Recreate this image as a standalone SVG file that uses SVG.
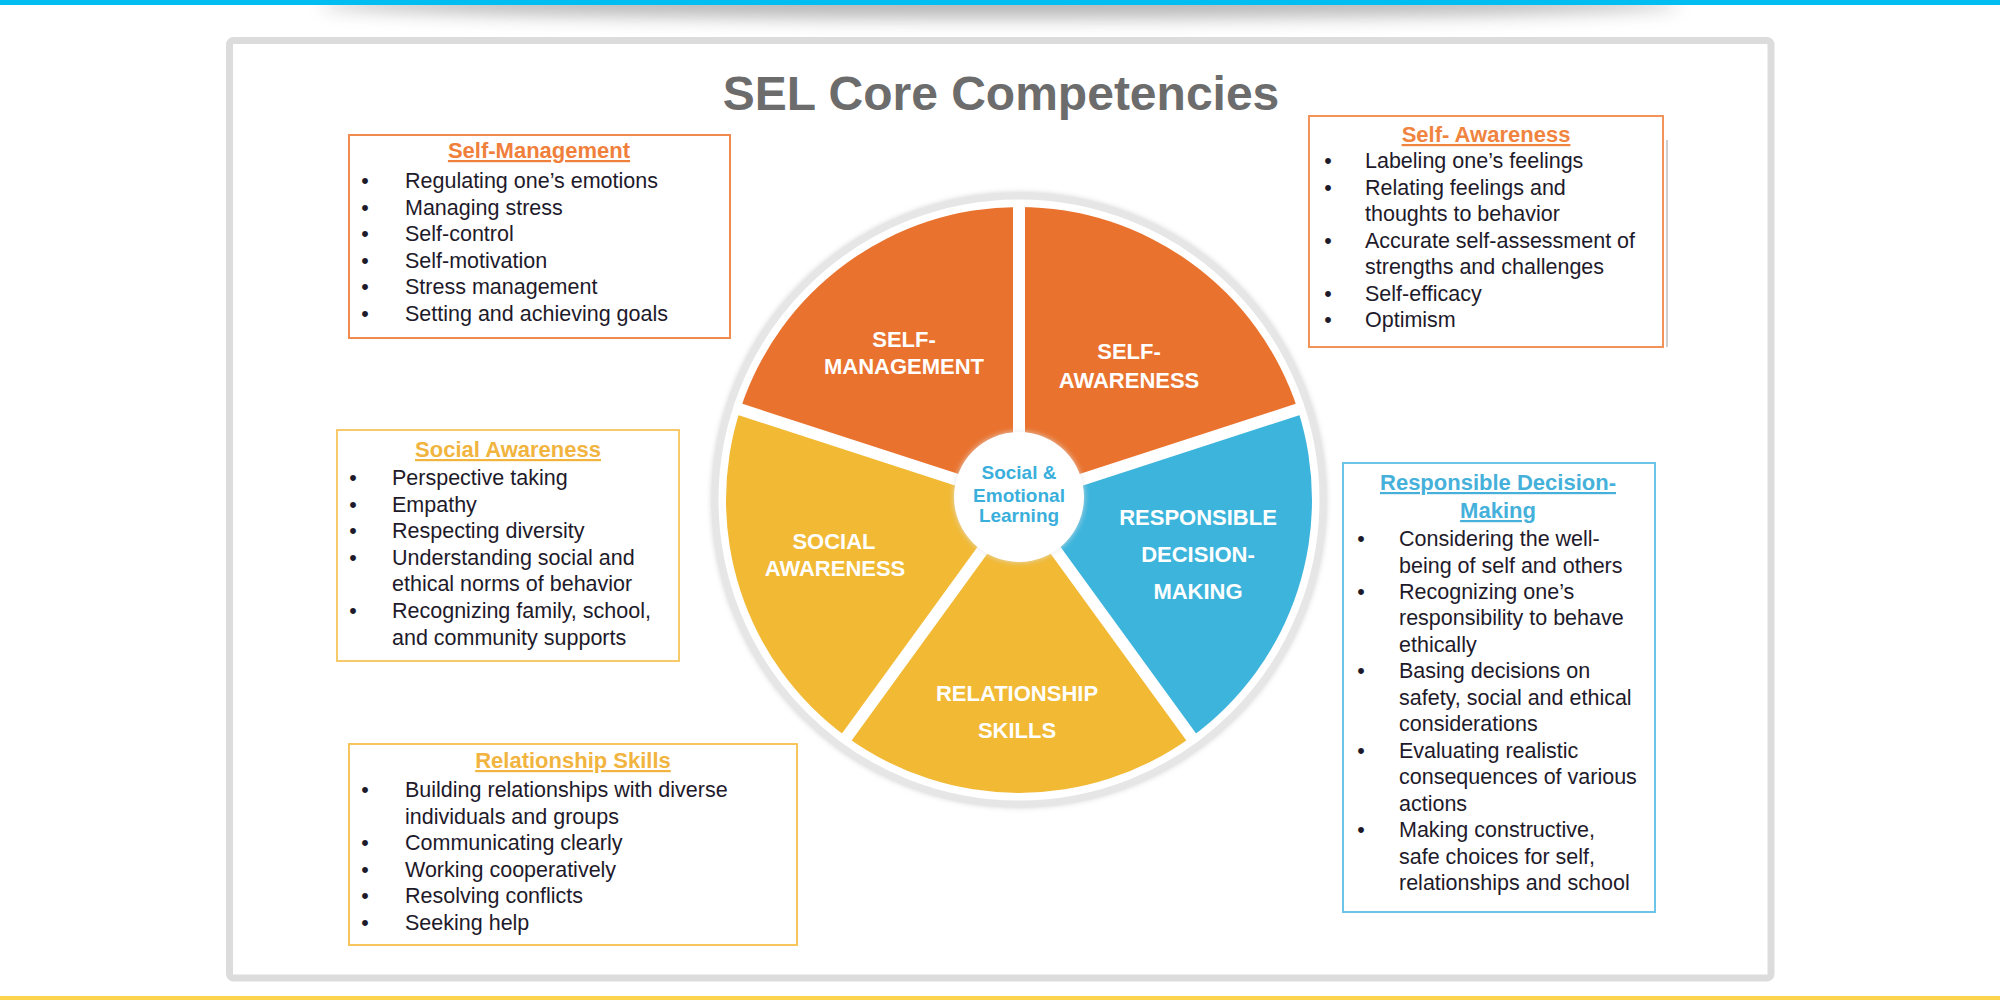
<svg xmlns="http://www.w3.org/2000/svg" width="2000" height="1000" viewBox="0 0 2000 1000">
<style>
  .body { font-family: "Liberation Sans", Arial, sans-serif; font-size: 21.5px; fill: #1e1a2a; }
  .bul { font-family: "Liberation Sans", Arial, sans-serif; font-size: 21.5px; fill: #1e1a2a; text-anchor: middle; }
  .hd { font-family: "Liberation Sans", Arial, sans-serif; font-size: 22px; font-weight: bold; text-anchor: middle; text-decoration: underline; }
  .seg { font-family: "Liberation Sans", Arial, sans-serif; font-size: 22px; font-weight: bold; fill: #ffffff; text-anchor: middle; }
  .ctr { font-family: "Liberation Sans", Arial, sans-serif; font-size: 19px; font-weight: bold; fill: #3aafdc; text-anchor: middle; }
  .box { fill: #ffffff; stroke-width: 2; }
  .orange { fill: #e9722e; }
  .yellow { fill: #f1b934; }
  .blue { fill: #3db4dc; }
  .gap { stroke: #ffffff; stroke-width: 12; }
</style>
<defs>
  <filter id="blur8" x="-20%" y="-200%" width="140%" height="500%">
    <feGaussianBlur stdDeviation="9"/>
  </filter>
  <filter id="ringshadow" x="-10%" y="-10%" width="120%" height="120%">
    <feGaussianBlur stdDeviation="2.5"/>
  </filter>
  <clipPath id="belowbar"><rect x="0" y="5" width="2000" height="60"/></clipPath>
</defs>

<rect x="0" y="0" width="2000" height="1000" fill="#ffffff"/>

<!-- top bar with soft shadow -->
<g id="top-bar">
  <g clip-path="url(#belowbar)">
    <ellipse cx="1000" cy="4" rx="680" ry="14" fill="#7a7a7a" opacity="0.55" filter="url(#blur8)"/>
  </g>
  <rect x="0" y="0" width="2000" height="5" fill="#00bdf2"/>
</g>
<rect id="bottom-bar" x="0" y="996" width="2000" height="4" fill="#fcd44e"/>

<!-- frame -->
<rect id="frame" x="229.5" y="40.5" width="1541.5" height="937.5" rx="4" fill="#ffffff" stroke="#dcdcdc" stroke-width="7"/>

<g id="title">
  <text x="1001" y="110" font-family="'Liberation Sans', Arial, sans-serif" font-size="48" font-weight="bold" fill="#6c6c6c" text-anchor="middle">SEL Core Competencies</text>
</g>

<!-- wheel -->
<g id="wheel">
  <circle cx="1019" cy="500" r="305" fill="none" stroke="#c8c8c8" stroke-width="6" filter="url(#ringshadow)" opacity="0.7"/>
  <circle cx="1019" cy="500" r="304" fill="#ffffff" stroke="#e6e6e6" stroke-width="7"/>
  <g id="seg-self-management">
    <path class="orange" d="M1019 500 L740.3 409.5 A293 293 0 0 1 1019 207 Z"/>
    <text class="seg" x="904" y="347">SELF-</text>
    <text class="seg" x="904" y="374">MANAGEMENT</text>
  </g>
  <g id="seg-self-awareness">
    <path class="orange" d="M1019 500 L1019 207 A293 293 0 0 1 1297.7 409.5 Z"/>
    <text class="seg" x="1129" y="359">SELF-</text>
    <text class="seg" x="1129" y="388">AWARENESS</text>
  </g>
  <g id="seg-responsible-decision-making">
    <path class="blue" d="M1019 500 L1297.7 409.5 A293 293 0 0 1 1191.2 737 Z"/>
    <text class="seg" x="1198" y="525">RESPONSIBLE</text>
    <text class="seg" x="1198" y="562">DECISION-</text>
    <text class="seg" x="1198" y="599">MAKING</text>
  </g>
  <g id="seg-relationship-skills">
    <path class="yellow" d="M1019 500 L1191.2 737 A293 293 0 0 1 846.8 737 Z"/>
    <text class="seg" x="1017" y="701">RELATIONSHIP</text>
    <text class="seg" x="1017" y="738">SKILLS</text>
  </g>
  <g id="seg-social-awareness">
    <path class="yellow" d="M1019 500 L846.8 737 A293 293 0 0 1 740.3 409.5 Z"/>
    <text class="seg" x="834" y="549">SOCIAL</text>
    <text class="seg" x="835" y="576">AWARENESS</text>
  </g>
  <g id="separators">
    <line class="gap" x1="1019" y1="500" x2="1019" y2="200"/>
    <line class="gap" x1="1019" y1="500" x2="1304.3" y2="407.3"/>
    <line class="gap" x1="1019" y1="500" x2="1195.4" y2="742.7"/>
    <line class="gap" x1="1019" y1="500" x2="842.6" y2="742.7"/>
    <line class="gap" x1="1019" y1="500" x2="733.7" y2="407.3"/>
  </g>
  <g id="center-node">
    <circle cx="1019" cy="497" r="66" fill="#e2e2e2" opacity="0.6" filter="url(#ringshadow)"/>
    <circle cx="1019" cy="497" r="65" fill="#ffffff"/>
    <text class="ctr" x="1019" y="479">Social &amp;</text>
    <text class="ctr" x="1019" y="502">Emotional</text>
    <text class="ctr" x="1019" y="522">Learning</text>
  </g>
</g>

<!-- Self-Management box -->
<g id="box-self-management">
  <rect class="box" x="349" y="135" width="381" height="203" stroke="#f08a4e"/>
  <text class="hd" x="539" y="158" fill="#f07f3c">Self-Management</text>
  <text class="bul" x="365" y="188">•</text><text class="body" x="405" y="188">Regulating one’s emotions</text>
  <text class="bul" x="365" y="214.6">•</text><text class="body" x="405" y="214.6">Managing stress</text>
  <text class="bul" x="365" y="241.2">•</text><text class="body" x="405" y="241.2">Self-control</text>
  <text class="bul" x="365" y="267.8">•</text><text class="body" x="405" y="267.8">Self-motivation</text>
  <text class="bul" x="365" y="294.4">•</text><text class="body" x="405" y="294.4">Stress management</text>
  <text class="bul" x="365" y="321">•</text><text class="body" x="405" y="321">Setting and achieving goals</text>
</g>

<!-- Self-Awareness box -->
<g id="box-self-awareness">
  <line x1="1667" y1="140" x2="1667" y2="347" stroke="#cfcfcf" stroke-width="2"/>
  <rect class="box" x="1309" y="116" width="354" height="231" stroke="#f3935a"/>
  <text class="hd" x="1486" y="142" fill="#f0843f">Self- Awareness</text>
  <text class="bul" x="1328" y="168">•</text><text class="body" x="1365" y="168">Labeling one’s feelings</text>
  <text class="bul" x="1328" y="194.5">•</text><text class="body" x="1365" y="194.5">Relating feelings and</text>
  <text class="body" x="1365" y="221">thoughts to behavior</text>
  <text class="bul" x="1328" y="247.5">•</text><text class="body" x="1365" y="247.5">Accurate self-assessment of</text>
  <text class="body" x="1365" y="274">strengths and challenges</text>
  <text class="bul" x="1328" y="300.5">•</text><text class="body" x="1365" y="300.5">Self-efficacy</text>
  <text class="bul" x="1328" y="327">•</text><text class="body" x="1365" y="327">Optimism</text>
</g>

<!-- Social Awareness box -->
<g id="box-social-awareness">
  <rect class="box" x="337" y="430" width="342" height="231" stroke="#f6c96a"/>
  <text class="hd" x="508" y="457" fill="#f1b43e">Social Awareness</text>
  <text class="bul" x="353" y="485">•</text><text class="body" x="392" y="485">Perspective taking</text>
  <text class="bul" x="353" y="511.6">•</text><text class="body" x="392" y="511.6">Empathy</text>
  <text class="bul" x="353" y="538.2">•</text><text class="body" x="392" y="538.2">Respecting diversity</text>
  <text class="bul" x="353" y="564.8">•</text><text class="body" x="392" y="564.8">Understanding social and</text>
  <text class="body" x="392" y="591.4">ethical norms of behavior</text>
  <text class="bul" x="353" y="618">•</text><text class="body" x="392" y="618">Recognizing family, school,</text>
  <text class="body" x="392" y="644.6">and community supports</text>
</g>

<!-- Relationship Skills box -->
<g id="box-relationship-skills">
  <rect class="box" x="349" y="744" width="448" height="201" stroke="#f6c55c"/>
  <text class="hd" x="573" y="768" fill="#f1b43e">Relationship Skills</text>
  <text class="bul" x="365" y="797">•</text><text class="body" x="405" y="797">Building relationships with diverse</text>
  <text class="body" x="405" y="823.5">individuals and groups</text>
  <text class="bul" x="365" y="850">•</text><text class="body" x="405" y="850">Communicating clearly</text>
  <text class="bul" x="365" y="876.5">•</text><text class="body" x="405" y="876.5">Working cooperatively</text>
  <text class="bul" x="365" y="903">•</text><text class="body" x="405" y="903">Resolving conflicts</text>
  <text class="bul" x="365" y="929.5">•</text><text class="body" x="405" y="929.5">Seeking help</text>
</g>

<!-- Responsible Decision-Making box -->
<g id="box-responsible-decision-making">
  <rect class="box" x="1343" y="463" width="312" height="449" stroke="#6cc5e6"/>
  <text class="hd" x="1498" y="490" fill="#45b1db">Responsible Decision-</text>
  <text class="hd" x="1498" y="518" fill="#45b1db">Making</text>
  <text class="bul" x="1361" y="546">•</text><text class="body" x="1399" y="546">Considering the well-</text>
  <text class="body" x="1399" y="572.5">being of self and others</text>
  <text class="bul" x="1361" y="598.9">•</text><text class="body" x="1399" y="598.9">Recognizing one’s</text>
  <text class="body" x="1399" y="625.4">responsibility to behave</text>
  <text class="body" x="1399" y="651.8">ethically</text>
  <text class="bul" x="1361" y="678.3">•</text><text class="body" x="1399" y="678.3">Basing decisions on</text>
  <text class="body" x="1399" y="704.8">safety, social and ethical</text>
  <text class="body" x="1399" y="731.2">considerations</text>
  <text class="bul" x="1361" y="757.7">•</text><text class="body" x="1399" y="757.7">Evaluating realistic</text>
  <text class="body" x="1399" y="784.1">consequences of various</text>
  <text class="body" x="1399" y="810.6">actions</text>
  <text class="bul" x="1361" y="837.1">•</text><text class="body" x="1399" y="837.1">Making constructive,</text>
  <text class="body" x="1399" y="863.5">safe choices for self,</text>
  <text class="body" x="1399" y="890">relationships and school</text>
</g>

<g id="connectors"></g>
</svg>
